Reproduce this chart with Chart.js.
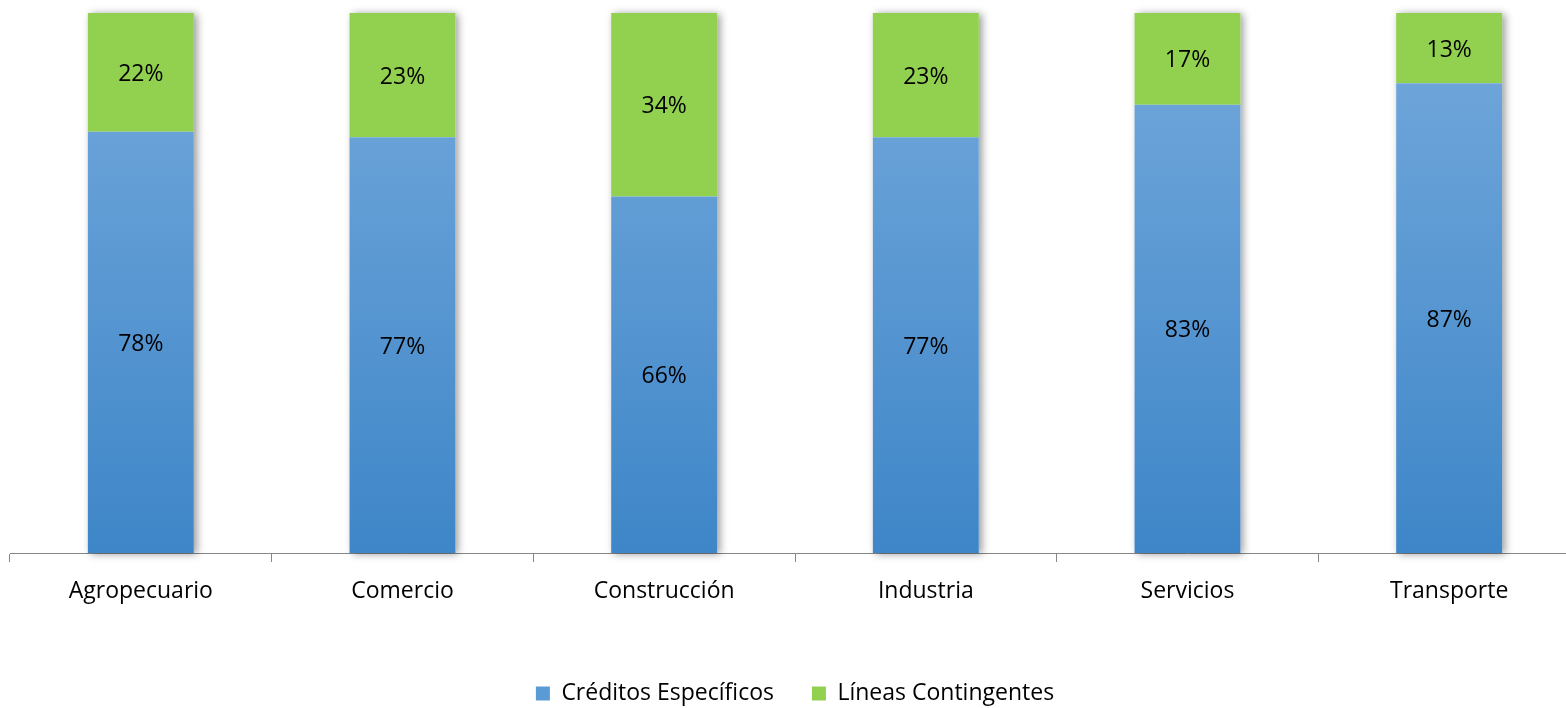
<!DOCTYPE html>
<html>
<head>
<meta charset="utf-8">
<script src="https://cdn.jsdelivr.net/npm/chart.js@4/dist/chart.umd.min.js"></script>
<style>
  html, body { margin: 0; padding: 0; background: #fff; overflow: hidden; }
  #wrap { width: 1590px; height: 708px; }
</style>
</head>
<body>
<div id="wrap"><canvas id="sectorChart"></canvas></div>
<script>
const categories = ['Agropecuario', 'Comercio', 'Construcción', 'Industria', 'Servicios', 'Transporte'];
const creditosEspecificos = [78, 77, 66, 77, 83, 87];
const lineasContingentes = [22, 23, 34, 23, 17, 13];

const FONT = '"Open Sans", "Noto Sans", sans-serif';
const FONT_SIZE = 23;

function blueGradient(context) {
    const chart = context.chart;
    const area = chart.chartArea;
    if (!area) return '#5b9bd5';
    const g = chart.ctx.createLinearGradient(0, area.top, 0, area.bottom);
    g.addColorStop(0, '#74a9dc');
    g.addColorStop(1, '#3e86c8');
    return g;
}

// soft shadow behind each whole stacked bar (drawn before the bars)
const barShadow = {
    id: 'barShadow',
    beforeDatasetsDraw(chart) {
        const ctx = chart.ctx;
        const first = chart.getDatasetMeta(0).data;
        const last = chart.getDatasetMeta(chart.data.datasets.length - 1).data;
        ctx.save();
        ctx.shadowColor = 'rgba(0, 0, 0, 0.4)';
        ctx.shadowBlur = 8;
        ctx.shadowOffsetX = 3;
        ctx.shadowOffsetY = 1;
        ctx.fillStyle = '#fff';
        first.forEach((el, j) => {
            const top = last[j].y;
            const bottom = el.base;
            ctx.fillRect(el.x - el.width / 2, top, el.width, bottom - top);
        });
        ctx.restore();
    }
};

// percentage labels centred in each segment
const segmentLabels = {
    id: 'segmentLabels',
    afterDatasetsDraw(chart) {
        const ctx = chart.ctx;
        ctx.save();
        ctx.font = FONT_SIZE + 'px ' + FONT;
        ctx.fillStyle = '#000';
        ctx.textAlign = 'center';
        ctx.textBaseline = 'middle';
        chart.data.datasets.forEach((ds, i) => {
            const meta = chart.getDatasetMeta(i);
            meta.data.forEach((el, j) => {
                const y = (el.y + el.base) / 2 + 2;
                ctx.fillText(ds.data[j] + '%', el.x, y);
            });
        });
        ctx.restore();
    }
};

// keep a wide gap between legend items without making the legend tall
const legendHeight = {
    id: 'legendHeight',
    afterInit(chart) {
        const legend = chart.legend;
        if (!legend) return;
        const fit = legend.fit;
        legend.fit = function () {
            fit.call(this);
            this.height = 64;
        };
    }
};

const ctx = document.getElementById('sectorChart').getContext('2d');

const chart = new Chart(ctx, {
    type: 'bar',
    data: {
        labels: categories,
        datasets: [{
            label: 'Créditos Específicos',
            data: creditosEspecificos,
            backgroundColor: blueGradient,
            borderWidth: 0,
            barPercentage: 0.405,
            categoryPercentage: 1
        }, {
            label: 'Líneas Contingentes',
            data: lineasContingentes,
            backgroundColor: '#92d050',
            borderWidth: 0,
            barPercentage: 0.405,
            categoryPercentage: 1
        }]
    },
    options: {
        responsive: true,
        maintainAspectRatio: false,
        animation: false,
        layout: {
            padding: { top: 13, left: 10, right: 10, bottom: 0 }
        },
        scales: {
            x: {
                stacked: true,
                offset: true,
                grid: {
                    offset: true,
                    drawOnChartArea: false,
                    drawTicks: true,
                    tickLength: 9,
                    color: '#868686'
                },
                border: { color: '#868686', width: 1 },
                ticks: {
                    color: '#000',
                    padding: 16,
                    font: { family: FONT, size: FONT_SIZE }
                },
                afterFit(scale) {
                    scale.height = 91;
                }
            },
            y: {
                stacked: true,
                display: false,
                min: 0,
                max: 100
            }
        },
        plugins: {
            tooltip: { enabled: false },
            legend: {
                position: 'bottom',
                labels: {
                    color: '#000',
                    boxWidth: 14,
                    boxHeight: 14,
                    padding: 38,
                    font: { family: FONT, size: FONT_SIZE },
                    generateLabels(chart) {
                        const fills = ['#5b9bd5', '#92d050'];
                        return chart.data.datasets.map((ds, i) => ({
                            text: ds.label,
                            fillStyle: fills[i],
                            strokeStyle: fills[i],
                            lineWidth: 0,
                            hidden: false,
                            datasetIndex: i
                        }));
                    }
                }
            }
        }
    },
    plugins: [legendHeight, barShadow, segmentLabels]
});
</script>
</body>
</html>
